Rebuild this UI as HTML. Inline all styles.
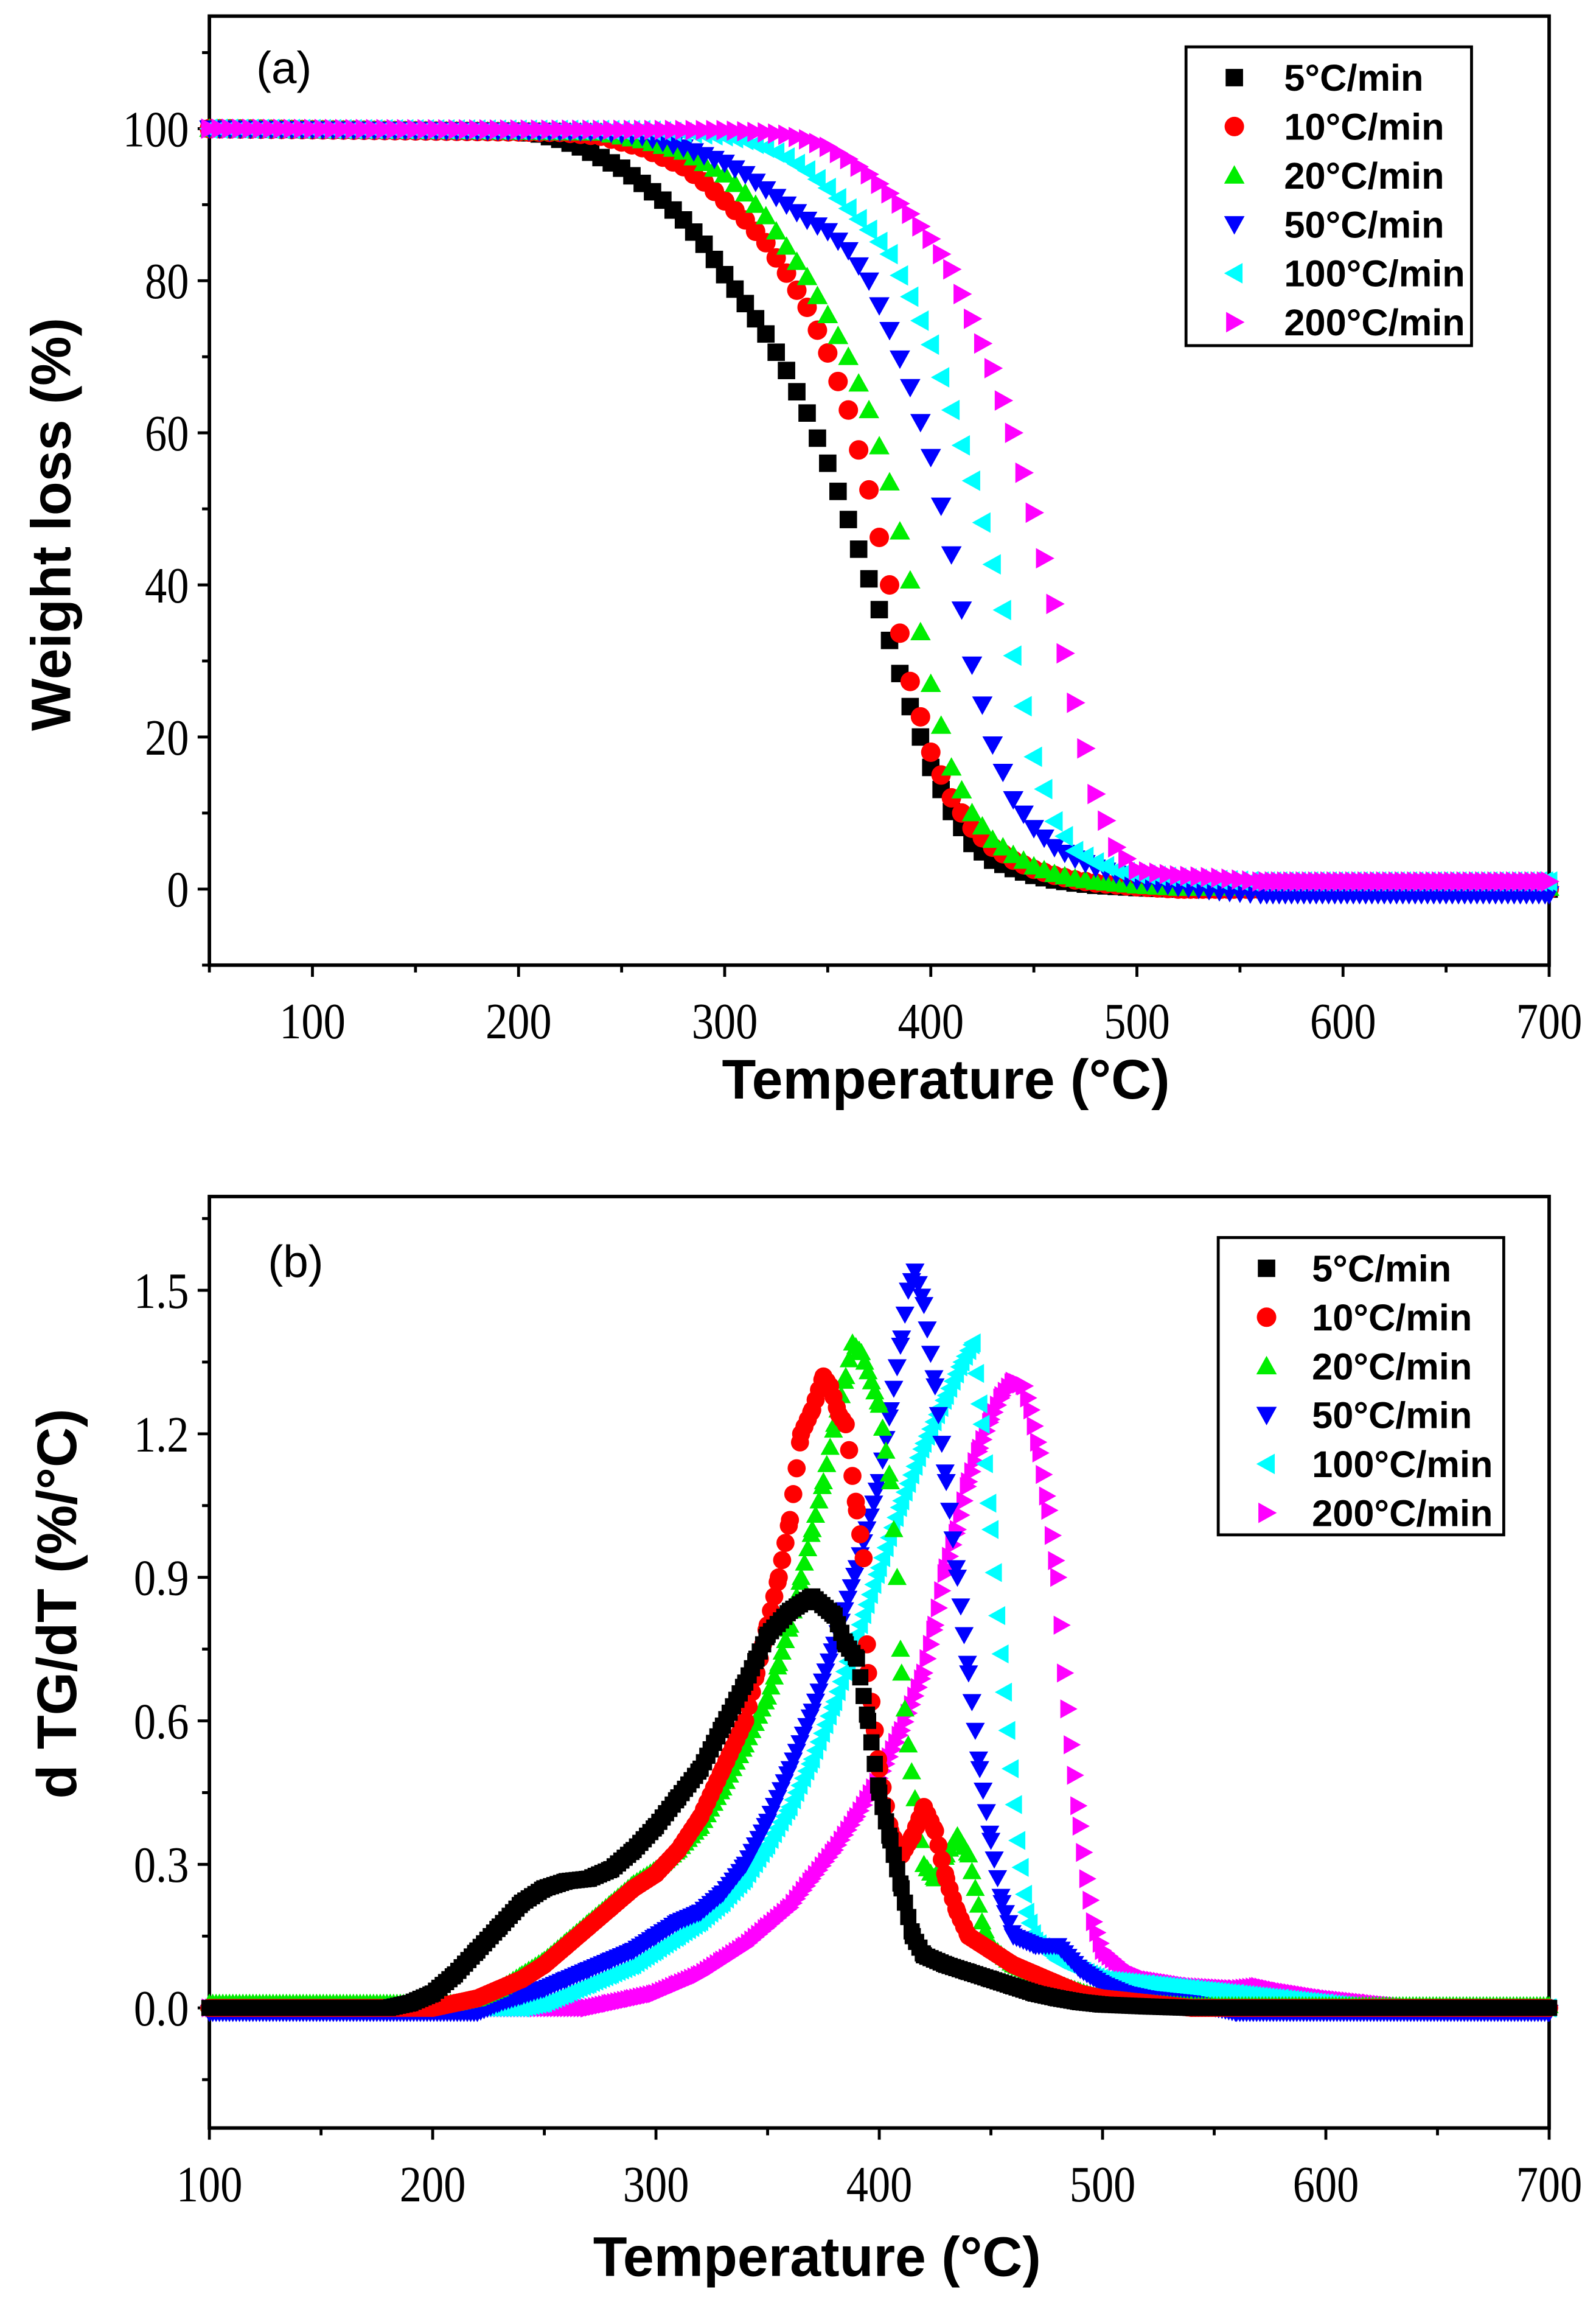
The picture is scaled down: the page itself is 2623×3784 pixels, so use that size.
<!DOCTYPE html>
<html><head><meta charset="utf-8"><style>
html,body{margin:0;padding:0;background:#fff;}
svg{display:block;}
.tick{font-family:"Liberation Serif",serif;font-size:35px;}
.title{font-family:"Liberation Sans",sans-serif;font-weight:bold;font-size:38px;}
.leg{font-family:"Liberation Sans",sans-serif;font-weight:bold;font-size:25.5px;}
.panel{font-family:"Liberation Sans",sans-serif;font-size:31px;}
</style></head><body>
<svg id="fig" width="2623" height="3784" viewBox="0 0 1090 1572.5" preserveAspectRatio="none" xmlns="http://www.w3.org/2000/svg">
<g id="pa"></g>
<g id="pb"></g>
</svg>
<script>
const seriesNames = ["5°C/min","10°C/min","20°C/min","50°C/min","100°C/min","200°C/min"];
const seriesColors = ["#000000","#ff0000","#00ee00","#0000ff","#00ffff","#ff00ff"];
const seriesShapes = ["square","circle","up","down","left","right"];
const aTicksX = [100,200,300,400,500,600,700];
const aTicksY = [0,20,40,60,80,100];
const bTicksX = [100,200,300,400,500,600,700];
const bTicksY = ["0.0","0.3","0.6","0.9","1.2","1.5"];

const tgT5 = [50,200,210,220,230,240,250,260,270,280,290,300,310,320,330,340,350,360,370,380,390,400,410,420,430,440,450,460,470,480,500,520,700];
const tgV5 = [100,99.6,99.3,98.6,97.6,96.2,94.8,92.8,90.6,88,84.8,80.8,77,73,68.2,62.6,56,48.6,40.8,32.7,24,16,10.2,6,3.8,2.7,1.8,1.2,0.8,0.5,0.2,0,0];
const tgT10 = [50,220,240,260,280,290,300,310,320,330,340,350,360,370,380,390,400,410,420,430,440,450,460,470,480,500,520,700];
const tgV10 = [100,99.5,99,97.5,95,93,90.5,88,85,81,76.5,70.5,63,52.5,40,27.3,18,12,8,5.5,3.8,2.6,1.8,1.2,0.8,0.3,0,0];
const tgT20 = [50,240,260,280,300,310,320,330,340,350,360,370,380,390,400,410,420,430,440,450,460,470,480,500,520,700];
const tgV20 = [100,99.5,98.5,97,94,91.5,88.5,84.5,80.5,75.5,70,63,53.5,40.6,27,16,10,6.5,4.5,3,2,1.4,1,0.5,0.2,0.2];
const tgT50 = [50,240,260,280,300,310,320,330,340,350,360,370,380,390,400,410,420,430,440,450,460,470,480,490,500,520,540,560,700];
const tgV50 = [100,99.6,99,97.5,95.5,94,92,90,88,86.5,84,80,73.5,66,56.8,44,29.5,19,11.8,8,5.5,4,2.8,2,1.2,0.3,-0.3,-0.7,-0.7];
const tgT100 = [50,260,280,300,310,320,330,340,350,360,370,380,390,400,410,420,430,440,450,460,470,480,490,500,520,540,560,700];
const tgV100 = [100,99.8,99.5,99,98.5,97.5,96.2,94.5,92.2,89.5,86.7,83.5,77.9,71.6,63,53.7,42.7,30.7,17.4,8.9,5,3.5,2.5,2,1.5,1.2,1,1];
const tgT200 = [50,300,320,330,340,350,360,370,380,390,400,410,420,430,440,450,460,470,480,490,500,520,540,560,700];
const tgV200 = [100,99.8,99.5,99.2,98.6,97.6,96,94,91.5,88.8,85.5,81.5,75,68.5,60,49.5,37.5,24.5,12.5,5.5,2.5,1.8,1.5,1,1];

const dtT5 = [100,180,190,200,210,220,230,240,250,260,270,280,290,300,310,320,330,340,345,350,360,370,380,385,390,395,400,405,410,415,420,430,440,450,460,470,480,490,500,520,540,700];
const dtV5 = [0,0,0.01,0.03,0.07,0.12,0.17,0.22,0.25,0.265,0.27,0.29,0.33,0.38,0.44,0.5,0.59,0.68,0.73,0.78,0.83,0.86,0.82,0.76,0.73,0.6,0.45,0.35,0.25,0.15,0.11,0.09,0.075,0.06,0.045,0.03,0.02,0.012,0.007,0.003,0,0];
const dtT10 = [100,200,210,220,230,240,250,260,270,280,290,300,310,320,330,340,345,350,355,360,365,370,375,378,382,385,390,393,395,400,405,410,415,420,425,430,435,440,450,460,470,480,490,500,520,540,700];
const dtV10 = [0,0,0.01,0.02,0.04,0.06,0.09,0.13,0.17,0.21,0.25,0.28,0.33,0.4,0.5,0.6,0.7,0.8,0.9,1.02,1.2,1.25,1.32,1.3,1.24,1.22,1.04,0.94,0.7,0.5,0.37,0.32,0.36,0.42,0.37,0.27,0.2,0.15,0.12,0.09,0.07,0.05,0.03,0.02,0.01,0,0];
const dtT20 = [100,210,220,230,240,250,260,270,280,290,300,310,320,330,340,350,355,360,365,370,375,380,385,388,392,395,400,405,408,410,413,417,420,425,430,435,440,443,446,450,460,470,480,490,500,520,540,700];
const dtV20 = [0.01,0.01,0.02,0.04,0.07,0.1,0.14,0.18,0.22,0.26,0.29,0.33,0.38,0.46,0.55,0.65,0.72,0.8,0.9,1.0,1.1,1.22,1.32,1.39,1.37,1.33,1.26,1.1,0.9,0.7,0.55,0.4,0.3,0.27,0.32,0.36,0.32,0.25,0.18,0.13,0.09,0.07,0.05,0.035,0.02,0.01,0.005,0.005];
const dtT50 = [100,220,230,240,250,260,270,280,290,300,310,320,330,340,350,360,370,380,390,400,405,410,413,416,420,425,430,435,440,445,450,455,460,470,480,490,500,510,520,540,560,700];
const dtV50 = [-0.01,-0.01,0.01,0.025,0.04,0.06,0.08,0.1,0.12,0.15,0.18,0.2,0.24,0.3,0.39,0.5,0.62,0.76,0.92,1.1,1.25,1.4,1.5,1.54,1.47,1.3,1.1,0.9,0.7,0.5,0.35,0.22,0.15,0.13,0.13,0.08,0.05,0.03,0.02,0.01,-0.01,-0.01];
const dtT100 = [100,240,250,260,270,280,290,300,310,320,330,340,350,360,370,380,390,400,410,420,430,437,442,446,450,453,456,459,462,466,470,480,490,500,520,540,560,580,600,620,700];
const dtV100 = [0,0,0.01,0.03,0.05,0.07,0.09,0.12,0.15,0.18,0.22,0.27,0.34,0.42,0.52,0.64,0.78,0.92,1.06,1.18,1.28,1.35,1.39,1.22,1.0,0.82,0.66,0.5,0.35,0.2,0.14,0.1,0.08,0.06,0.05,0.04,0.03,0.02,0.01,0,0];
const dtT200 = [100,270,280,290,300,310,320,330,340,350,360,370,380,390,400,410,420,425,430,435,440,445,450,455,460,465,468,472,476,480,483,486,490,493,496,500,510,520,540,560,570,580,600,620,640,700];
const dtV200 = [0,0,0.01,0.02,0.03,0.05,0.07,0.1,0.13,0.17,0.21,0.27,0.33,0.4,0.48,0.58,0.7,0.8,0.92,1.0,1.1,1.17,1.23,1.28,1.31,1.3,1.25,1.16,1.04,0.9,0.7,0.55,0.38,0.27,0.18,0.12,0.08,0.06,0.045,0.04,0.045,0.035,0.02,0.01,0,0];

const tgT=[tgT5,tgT10,tgT20,tgT50,tgT100,tgT200], tgV=[tgV5,tgV10,tgV20,tgV50,tgV100,tgV200];
const dtT=[dtT5,dtT10,dtT20,dtT50,dtT100,dtT200], dtV=[dtV5,dtV10,dtV20,dtV50,dtV100,dtV200];

const NS="http://www.w3.org/2000/svg";
function mk(tag,attrs,parent){const e=document.createElementNS(NS,tag);for(const k in attrs)e.setAttribute(k,attrs[k]);parent.appendChild(e);return e;}

const ax={L:143,R:1058,T:11,B:659,x0:50,x1:700,y0:-10,y1:114.8};
const bx={L:143,R:1058,T:817,B:1453,x0:100,x1:700,y0:-0.251,y1:1.696};
function sx(a,v){return a.L+(v-a.x0)/(a.x1-a.x0)*(a.R-a.L);}
function sy(a,v){return a.B-(v-a.y0)/(a.y1-a.y0)*(a.B-a.T);}

function marker(g,shape,x,y,color,s){
  let e;
  if(shape==="square") e=mk("rect",{x:x-s*0.85,y:y-s*0.85,width:s*1.7,height:s*1.7,fill:color},g);
  else if(shape==="circle") e=mk("circle",{cx:x,cy:y,r:s*0.95,fill:color},g);
  else {
    let p;
    if(shape==="up") p=[[x,y-s],[x-s,y+s*0.8],[x+s,y+s*0.8]];
    else if(shape==="down") p=[[x,y+s],[x-s,y-s*0.8],[x+s,y-s*0.8]];
    else if(shape==="left") p=[[x-s,y],[x+s*0.8,y-s],[x+s*0.8,y+s]];
    else p=[[x+s,y],[x-s*0.8,y-s],[x-s*0.8,y+s]];
    e=mk("polygon",{points:p.map(q=>q.join(",")).join(" "),fill:color},g);
  }
  return e;
}

function tickText(g,x,y,anchor,str){
  const t=mk("text",{x:0,y:0,"text-anchor":anchor,class:"tick",transform:"translate("+x+","+y+") scale(0.86,1)"},g);
  t.textContent=str;
  return t;
}

function drawFrame(g,a,xt,yt,yminor,ylabels,xlabels){
  mk("rect",{x:a.L,y:a.T,width:a.R-a.L,height:a.B-a.T,fill:"none",stroke:"#000","stroke-width":2.4},g);
  const step=(xt[1]-xt[0])/2;
  for(let v=a.x0; v<=a.x1+0.01; v+=step){
    const isMaj = xt.some(t=>Math.abs(t-v)<0.01);
    const t=mk("line",{x1:sx(a,v),x2:sx(a,v),y1:a.B,y2:a.B+(isMaj?8:5),stroke:"#000","stroke-width":2},g);
    
    
  }
  xt.forEach((v,i)=>{
    const t=tickText(g,sx(a,v),a.B+50,"middle",xlabels[i]);
    
    
  });
  yminor.forEach(v=>{
    const isMaj = yt.some(t=>Math.abs(t-v)<1e-6);
    const t=mk("line",{x1:a.L-(isMaj?8:5),x2:a.L,y1:sy(a,v),y2:sy(a,v),stroke:"#000","stroke-width":2},g);
    
    
  });
  yt.forEach((v,i)=>{
    const t=tickText(g,a.L-14,sy(a,v)+12,"end",ylabels[i]);
    
    
  });
}

function drawSeries(g,a,T,V,shape,color,s,stepA,stepFlat){
  const sg=mk("g",{},g);
  
  
  for(let i=0;i<T.length;i++){
    if(T[i]<a.x0||T[i]>a.x1) continue;
    marker(sg,shape,sx(a,T[i]),sy(a,V[i]),color,s);
    if(i<T.length-1){
      const st=(V[i]===V[i+1])?stepFlat:stepA;
      for(let t=T[i]+st;t<T[i+1]-1e-6;t+=st){
        const f=(t-T[i])/(T[i+1]-T[i]);
        marker(sg,shape,sx(a,t),sy(a,V[i]+f*(V[i+1]-V[i])),color,s);
      }
    }
  }
}

function legend(g,x,y,w,h,mx,tx,y0,dy){
  const lg=mk("g",{},g);
  
  
  mk("rect",{x:x,y:y,width:w,height:h,fill:"#fff",stroke:"#000","stroke-width":2},lg);
  seriesNames.forEach((n,i)=>{
    const e=mk("g",{},lg);
    
    
    marker(e,seriesShapes[i],mx,y0+i*dy,seriesColors[i],7);
    const t=mk("text",{x:tx,y:y0+i*dy+9,class:"leg"},e);t.textContent=n;
  });
}

const pa=document.getElementById("pa");
const aMinor=[];for(let v=-10;v<=110;v+=10)aMinor.push(v);
drawFrame(pa,ax,aTicksX,aTicksY,aMinor,aTicksY.map(String),aTicksX.map(String));
for(let i=0;i<6;i++) drawSeries(pa,ax,tgT[i],tgV[i],seriesShapes[i],seriesColors[i],7,5,3);
legend(pa,810,32,195,204,843,877,53,33.4);
let t=mk("text",{x:175,y:57,class:"panel"},pa);t.textContent="(a)";


t=mk("text",{x:646,y:750,"text-anchor":"middle",class:"title"},pa);t.textContent="Temperature (°C)";


t=mk("text",{x:0,y:0,"text-anchor":"middle",class:"title",transform:"translate(48,358) rotate(-90)"},pa);t.textContent="Weight loss (%)";



const pb=document.getElementById("pb");
const bMinor=[];for(let k=-1;k<=11;k++)bMinor.push(k*0.15);
drawFrame(pb,bx,bTicksX,bTicksY.map(Number),bMinor,bTicksY,bTicksX.map(String));
for(let i=5;i>=0;i--) drawSeries(pb,bx,dtT[i],dtV[i],seriesShapes[i],seriesColors[i],6.5,1.5,1.5);
legend(pb,832,845,195,203,865,896,866,33.4);
t=mk("text",{x:183,y:872,class:"panel"},pb);t.textContent="(b)";


t=mk("text",{x:558,y:1554,"text-anchor":"middle",class:"title"},pb);t.textContent="Temperature (°C)";


t=mk("text",{x:0,y:0,"text-anchor":"middle",class:"title",transform:"translate(52,1095) rotate(-90)"},pb);t.textContent="d TG/dT (%/°C)";


</script>
</body></html>
